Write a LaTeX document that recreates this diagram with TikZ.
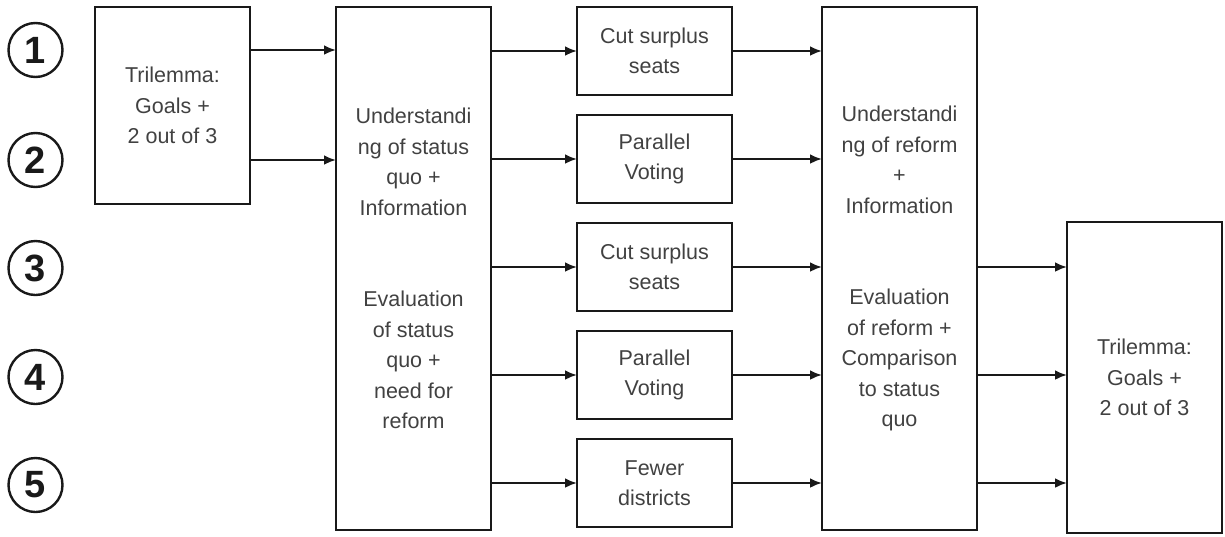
\documentclass[tikz,border=0pt]{standalone}
\usepackage{fontspec}
\setmainfont{Liberation Sans}
\usepackage{tikz}
\usetikzlibrary{arrows.meta,positioning}
\definecolor{dftext}{RGB}{65,65,65}
\definecolor{dfline}{RGB}{25,25,25}
\tikzstyle{box} = [draw=dfline, line width=2.4pt, outer sep=0pt, minimum width=155pt, inner sep=2pt, align=center, text=dftext, font=\fontsize{21.5}{30.5}\selectfont]
\tikzstyle{option} = [box, minimum height=88pt]
\tikzstyle{num} = [draw=dfline, line width=2.4pt, circle, minimum size=54pt, inner sep=0pt, text=dfline, font=\fontsize{38}{38}\selectfont\bfseries]
\tikzstyle{arrow} = [line width=2.4pt, draw=dfline, -{Latex[length=12pt,width=10pt]}]

\begin{document}
\begin{tikzpicture}[x=1pt, y=-1pt]
    \useasboundingbox (0,0) rectangle (1225,536);

    % Scenario numbers
    \foreach \i/\y in {1/50, 2/160, 3/268, 4/377, 5/485}
        \node[num] (n\i) at (35.5,\y) {\i};

    % Big boxes
    \node[box, minimum height=197pt] (trilA) at (172.5,105.5) {Trilemma:\\Goals +\\2 out of 3};
    \node[box, minimum height=523pt] (status) at (413.5,268.5) {Understandi\\ng of status\\quo +\\Information\\[61pt]Evaluation\\of status\\quo +\\need for\\reform};
    \node[box, minimum height=523pt] (reform) at (899.5,268.5) {Understandi\\ng of reform\\+\\Information\\[61pt]Evaluation\\of reform +\\Comparison\\to status\\quo};
    \node[box, minimum height=311pt] (trilB) at (1144.5,377.5) {Trilemma:\\Goals +\\2 out of 3};

    % Reform options
    \node[option] (cutA) at (654.5,51) {Cut surplus\\seats};
    \node[option, below=20pt of cutA] (parA) {Parallel\\Voting};
    \node[option, below=20pt of parA] (cutB) {Cut surplus\\seats};
    \node[option, below=20pt of cutB] (parB) {Parallel\\Voting};
    \node[option, below=20pt of parB] (fewer) {Fewer\\districts};

    % Arrows
    \draw[arrow] (trilA.east |- n1) -- (status.west |- n1);
    \draw[arrow] (trilA.east |- n2) -- (status.west |- n2);
    \foreach \o in {cutA, parA, cutB, parB, fewer} {
        \draw[arrow] (status.east |- \o) -- (\o.west);
        \draw[arrow] (\o.east) -- (reform.west |- \o);
    }
    \foreach \o in {cutB, parB, fewer}
        \draw[arrow] (reform.east |- \o) -- (trilB.west |- \o);
\end{tikzpicture}
\end{document}
